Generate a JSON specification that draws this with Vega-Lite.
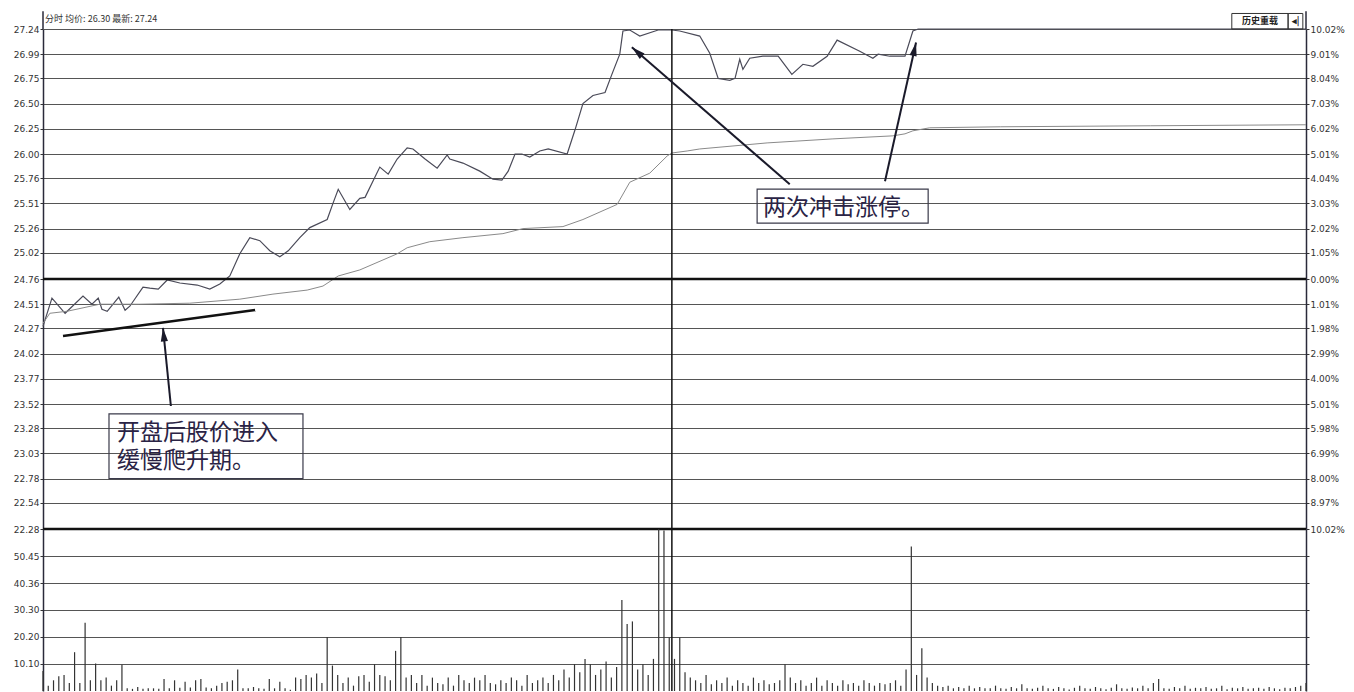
{
"$schema":"https://vega.github.io/schema/vega-lite/v6.json",
"autosize":{"type":"pad"},
"padding":{"left":13,"top":10,"right":0,"bottom":0},
"background":"white",
"spacing":0,
"bounds":"flush",
"config":{"view":{"stroke":null}},
"datasets":{
"price":[{"m":0,"p":24.29},{"m":1.7,"p":24.57},{"m":4.2,"p":24.42},{"m":7.6,"p":24.59},{"m":9.3,"p":24.51},{"m":10.5,"p":24.57},{"m":11.2,"p":24.46},{"m":12.2,"p":24.44},{"m":14.4,"p":24.58},{"m":15.6,"p":24.45},{"m":16.5,"p":24.49},{"m":19.0,"p":24.68},{"m":20.3,"p":24.67},{"m":21.9,"p":24.66},{"m":23.6,"p":24.75},{"m":26.0,"p":24.72},{"m":29.3,"p":24.70},{"m":31.7,"p":24.66},{"m":33.6,"p":24.71},{"m":35.5,"p":24.79},{"m":37.4,"p":25.01},{"m":39.3,"p":25.17},{"m":41.2,"p":25.14},{"m":43.1,"p":25.04},{"m":45.0,"p":24.98},{"m":46.6,"p":25.04},{"m":48.8,"p":25.17},{"m":50.7,"p":25.27},{"m":54.0,"p":25.35},{"m":55.1,"p":25.51},{"m":56.1,"p":25.65},{"m":58.3,"p":25.45},{"m":60.2,"p":25.56},{"m":61.2,"p":25.57},{"m":64.0,"p":25.87},{"m":65.6,"p":25.80},{"m":67.3,"p":25.95},{"m":69.2,"p":26.06},{"m":70.3,"p":26.05},{"m":72.6,"p":25.95},{"m":74.9,"p":25.86},{"m":76.8,"p":25.99},{"m":77.3,"p":25.95},{"m":79.8,"p":25.91},{"m":83.0,"p":25.83},{"m":85.5,"p":25.75},{"m":87.2,"p":25.74},{"m":88.4,"p":25.83},{"m":89.7,"p":26.00},{"m":91.0,"p":26.00},{"m":92.5,"p":25.97},{"m":94.4,"p":26.03},{"m":96.0,"p":26.05},{"m":99.6,"p":26.00},{"m":101.1,"p":26.24},{"m":102.6,"p":26.50},{"m":104.5,"p":26.58},{"m":106.8,"p":26.61},{"m":108.1,"p":26.79},{"m":109.6,"p":26.99},{"m":110.2,"p":27.22},{"m":111.5,"p":27.23},{"m":113.4,"p":27.17},{"m":116.9,"p":27.23},{"m":119.5,"p":27.23},{"m":121.0,"p":27.22},{"m":124.8,"p":27.17},{"m":126.7,"p":27.00},{"m":128.3,"p":26.75},{"m":130.5,"p":26.73},{"m":131.5,"p":26.75},{"m":132.4,"p":26.94},{"m":133.0,"p":26.84},{"m":134.3,"p":26.95},{"m":136.8,"p":26.97},{"m":139.7,"p":26.97},{"m":142.3,"p":26.79},{"m":144.4,"p":26.89},{"m":146.3,"p":26.87},{"m":149.0,"p":26.97},{"m":150.9,"p":27.13},{"m":155.2,"p":27.02},{"m":157.7,"p":26.95},{"m":158.7,"p":26.99},{"m":160.9,"p":26.97},{"m":163.8,"p":26.97},{"m":165.3,"p":27.22},{"m":166.3,"p":27.24},{"m":240,"p":27.24}],
"avg":[{"m":0,"p":24.32},{"m":1.3,"p":24.42},{"m":4.6,"p":24.44},{"m":10.8,"p":24.51},{"m":18.4,"p":24.51},{"m":27.9,"p":24.52},{"m":37.4,"p":24.56},{"m":43.7,"p":24.61},{"m":50.2,"p":24.65},{"m":53.2,"p":24.69},{"m":56.1,"p":24.79},{"m":60.2,"p":24.85},{"m":67.3,"p":25.01},{"m":69.2,"p":25.07},{"m":73.5,"p":25.13},{"m":79.8,"p":25.17},{"m":87.4,"p":25.21},{"m":91.2,"p":25.26},{"m":98.8,"p":25.28},{"m":102.6,"p":25.35},{"m":109.1,"p":25.50},{"m":111.5,"p":25.72},{"m":115.3,"p":25.81},{"m":118.6,"p":25.98},{"m":119.5,"p":26.01},{"m":122.4,"p":26.03},{"m":124.8,"p":26.05},{"m":137.6,"p":26.11},{"m":150.1,"p":26.15},{"m":161.5,"p":26.18},{"m":163.8,"p":26.20},{"m":165.3,"p":26.23},{"m":168.5,"p":26.26},{"m":181.9,"p":26.27},{"m":210.4,"p":26.28},{"m":240,"p":26.29}],
"vol":[{"m":0,"v":7.5},{"m":1,"v":2},{"m":2,"v":4},{"m":3,"v":5.5},{"m":4,"v":6},{"m":5,"v":3},{"m":6,"v":14.5},{"m":7,"v":3},{"m":8,"v":25.5},{"m":9,"v":4},{"m":10,"v":10.3},{"m":11,"v":4},{"m":12,"v":5},{"m":13,"v":2},{"m":14,"v":4},{"m":15,"v":9.8},{"m":16,"v":1},{"m":17,"v":0.8},{"m":18,"v":1.5},{"m":19,"v":0.8},{"m":20,"v":1},{"m":21,"v":1},{"m":22,"v":0.8},{"m":23,"v":4.5},{"m":24,"v":1},{"m":25,"v":4},{"m":26,"v":1.2},{"m":27,"v":3.5},{"m":28,"v":1.3},{"m":29,"v":4},{"m":30,"v":4.5},{"m":31,"v":1.3},{"m":32,"v":1},{"m":33,"v":2},{"m":34,"v":3},{"m":35,"v":3.5},{"m":36,"v":4},{"m":37,"v":8},{"m":38,"v":1},{"m":39,"v":1},{"m":40,"v":1.5},{"m":41,"v":1},{"m":42,"v":0.8},{"m":43,"v":4.5},{"m":44,"v":1},{"m":45,"v":3.5},{"m":46,"v":1},{"m":47,"v":0.5},{"m":48,"v":5},{"m":49,"v":4.5},{"m":50,"v":6},{"m":51,"v":5},{"m":52,"v":6.5},{"m":53,"v":3},{"m":54,"v":20.2},{"m":55,"v":9.5},{"m":56,"v":6},{"m":57,"v":3},{"m":58,"v":5},{"m":59,"v":2},{"m":60,"v":5.5},{"m":61,"v":6},{"m":62,"v":3.5},{"m":63,"v":10},{"m":64,"v":6},{"m":65,"v":5.5},{"m":66,"v":4},{"m":67,"v":15},{"m":68,"v":20.2},{"m":69,"v":5},{"m":70,"v":6},{"m":71,"v":3},{"m":72,"v":6},{"m":73,"v":2},{"m":74,"v":5},{"m":75,"v":3},{"m":76,"v":2.5},{"m":77,"v":5},{"m":78,"v":2},{"m":79,"v":6},{"m":80,"v":4},{"m":81,"v":3},{"m":82,"v":5},{"m":83,"v":4},{"m":84,"v":6},{"m":85,"v":3},{"m":86,"v":2.5},{"m":87,"v":4},{"m":88,"v":3},{"m":89,"v":5},{"m":90,"v":4},{"m":91,"v":2},{"m":92,"v":6},{"m":93,"v":3},{"m":94,"v":4},{"m":95,"v":5},{"m":96,"v":3},{"m":97,"v":6},{"m":98,"v":4},{"m":99,"v":8},{"m":100,"v":5},{"m":101,"v":10},{"m":102,"v":7},{"m":103,"v":12},{"m":104,"v":10},{"m":105,"v":6},{"m":106,"v":8},{"m":107,"v":11},{"m":108,"v":5},{"m":109,"v":9},{"m":110,"v":34},{"m":111,"v":25},{"m":112,"v":26},{"m":113,"v":8},{"m":114,"v":10},{"m":115,"v":6},{"m":116,"v":12},{"m":117,"v":60.5},{"m":118,"v":60},{"m":119,"v":20},{"m":120,"v":12},{"m":121,"v":20},{"m":122,"v":7},{"m":123,"v":5},{"m":124,"v":4},{"m":125,"v":3},{"m":126,"v":6},{"m":127,"v":2.5},{"m":128,"v":4},{"m":129,"v":3},{"m":130,"v":5},{"m":131,"v":2},{"m":132,"v":4},{"m":133,"v":3},{"m":134,"v":2},{"m":135,"v":5},{"m":136,"v":3},{"m":137,"v":4},{"m":138,"v":2.5},{"m":139,"v":3},{"m":140,"v":4},{"m":141,"v":10},{"m":142,"v":5},{"m":143,"v":3},{"m":144,"v":4},{"m":145,"v":2},{"m":146,"v":3},{"m":147,"v":5},{"m":148,"v":2},{"m":149,"v":4},{"m":150,"v":3},{"m":151,"v":2},{"m":152,"v":4},{"m":153,"v":2.5},{"m":154,"v":3},{"m":155,"v":2},{"m":156,"v":4},{"m":157,"v":3},{"m":158,"v":2},{"m":159,"v":3},{"m":160,"v":2.5},{"m":161,"v":3},{"m":162,"v":4},{"m":163,"v":2},{"m":164,"v":8},{"m":165,"v":54},{"m":166,"v":6},{"m":167,"v":16},{"m":168,"v":5},{"m":169,"v":3},{"m":170,"v":2},{"m":171,"v":1.5},{"m":172,"v":2},{"m":173,"v":1},{"m":174,"v":1.5},{"m":175,"v":1},{"m":176,"v":2},{"m":177,"v":1},{"m":178,"v":1.5},{"m":179,"v":1},{"m":180,"v":1},{"m":181,"v":2},{"m":182,"v":1},{"m":183,"v":0.8},{"m":184,"v":1.5},{"m":185,"v":1},{"m":186,"v":2.5},{"m":187,"v":1},{"m":188,"v":0.8},{"m":189,"v":1.2},{"m":190,"v":2},{"m":191,"v":1},{"m":192,"v":0.8},{"m":193,"v":1.5},{"m":194,"v":1},{"m":195,"v":0.6},{"m":196,"v":1.2},{"m":197,"v":2},{"m":198,"v":1},{"m":199,"v":0.8},{"m":200,"v":1.5},{"m":201,"v":1},{"m":202,"v":0.7},{"m":203,"v":1.2},{"m":204,"v":2.5},{"m":205,"v":1},{"m":206,"v":0.8},{"m":207,"v":1.3},{"m":208,"v":1},{"m":209,"v":2},{"m":210,"v":1},{"m":211,"v":3},{"m":212,"v":4.5},{"m":213,"v":1},{"m":214,"v":0.8},{"m":215,"v":1.5},{"m":216,"v":1},{"m":217,"v":2},{"m":218,"v":0.8},{"m":219,"v":1.2},{"m":220,"v":1},{"m":221,"v":1.5},{"m":222,"v":0.8},{"m":223,"v":1},{"m":224,"v":2},{"m":225,"v":0.7},{"m":226,"v":1.2},{"m":227,"v":1},{"m":228,"v":1.5},{"m":229,"v":0.8},{"m":230,"v":1},{"m":231,"v":1.2},{"m":232,"v":0.8},{"m":233,"v":1.5},{"m":234,"v":1},{"m":235,"v":0.7},{"m":236,"v":1.2},{"m":237,"v":1},{"m":238,"v":1.5},{"m":239,"v":2},{"m":240,"v":3}],
"arrows":[{"x":141.9,"y":25.70,"x2":111.9,"y2":27.058},{"x":160.0,"y":25.73,"x2":165.9,"y2":27.107},{"x":24.3,"y":23.50,"x2":22.8,"y2":24.275}],
"trend":[{"x":3.8,"y":24.195,"x2":40.3,"y2":24.453}],
"heads":[{"x":111.9,"y":27.058,"a":310.9},{"x":165.9,"y":27.107,"a":12.6},{"x":22.8,"y":24.275,"a":354.1}],
"boxes":[{"x":135.7,"x2":168.2,"y":25.651,"y2":25.315},{"x":12.54,"x2":49.4,"y":23.423,"y2":22.779}],
"notes":[{"x":136.8,"y":25.466,"t":"两次冲击涨停。"},{"x":14.06,"y":23.228,"t":"开盘后股价进入"},{"x":14.06,"y":22.952,"t":"缓慢爬升期。"}],
"edges":[{"m":0},{"m":240}]
},
"vconcat":[
{
"width":1263,"height":500,
"resolve":{"axis":{"y":"independent"}},
"layer":[
{"data":{"name":"price"},"mark":{"type":"line","color":"#4a4a58","strokeWidth":1.2},
 "encoding":{"x":{"field":"m","type":"quantitative","scale":{"domain":[0,240],"nice":false,"zero":false},"axis":null},
 "y":{"field":"p","type":"quantitative","scale":{"domain":[22.28,27.24],"nice":false,"zero":false},
  "axis":{"orient":"left","title":null,"values":[22.28,22.54,22.78,23.03,23.28,23.52,23.77,24.02,24.27,24.51,24.76,25.02,25.26,25.51,25.76,26.00,26.25,26.50,26.75,26.99,27.24],"format":".2f","labelFont":"DejaVu Sans","labelFontSize":9,"labelColor":"#333","tickSize":3,"tickColor":"#333","labelPadding":1,"domainColor":"#2a2a3a","domainWidth":1.5,"grid":true,"gridColor":"#555","gridWidth":1.2}}}},
{"data":{"name":"avg"},"mark":{"type":"line","color":"#8a8a8a","strokeWidth":1},
 "encoding":{"x":{"field":"m","type":"quantitative","scale":{"domain":[0,240],"nice":false,"zero":false},"axis":null},
 "y":{"field":"p","type":"quantitative","scale":{"domain":[22.28,27.24],"nice":false,"zero":false},
  "axis":{"orient":"right","title":null,"values":[22.28,22.54,22.78,23.03,23.28,23.52,23.77,24.02,24.27,24.51,24.76,25.02,25.26,25.51,25.76,26.00,26.25,26.50,26.75,26.99,27.24],"labelExpr":"format(abs(datum.value-24.76)/24.76*100,'.2f')+'%'","labelFont":"DejaVu Sans","labelFontSize":9,"labelColor":"#333","tickSize":3,"tickColor":"#333","labelPadding":1,"domainColor":"#2a2a3a","domainWidth":1.5,"grid":false}}}},
{"data":{"values":[{}]},"mark":{"type":"rule","color":"#111","strokeWidth":2.5},
 "encoding":{"y":{"datum":24.76,"type":"quantitative","scale":{"domain":[22.28,27.24],"nice":false,"zero":false},"axis":null}}},
{"data":{"values":[{}]},"mark":{"type":"rule","color":"#111","strokeWidth":2.5},
 "encoding":{"y":{"datum":22.28,"type":"quantitative","scale":{"domain":[22.28,27.24],"nice":false,"zero":false},"axis":null}}},
{"data":{"values":[{}]},"mark":{"type":"rule","color":"#111","strokeWidth":1.5},
 "encoding":{"x":{"datum":119.5,"type":"quantitative","scale":{"domain":[0,240],"nice":false,"zero":false},"axis":null}}},
{"data":{"name":"edges"},"mark":{"type":"rule","color":"#2a2a3a","strokeWidth":1.5},
 "encoding":{"x":{"field":"m","type":"quantitative","scale":{"domain":[0,240],"nice":false,"zero":false},"axis":null},
 "y":{"datum":27.24,"type":"quantitative","scale":{"domain":[22.28,27.24],"nice":false,"zero":false},"axis":null},"y2":{"datum":27.415}}},
{"data":{"name":"arrows"},"mark":{"type":"rule","color":"#1a1a2a","strokeWidth":2},
 "encoding":{"x":{"field":"x","type":"quantitative","scale":{"domain":[0,240],"nice":false,"zero":false},"axis":null},"x2":{"field":"x2"},
 "y":{"field":"y","type":"quantitative","scale":{"domain":[22.28,27.24],"nice":false,"zero":false},"axis":null},"y2":{"field":"y2"}}},
{"data":{"name":"trend"},"mark":{"type":"rule","color":"#111","strokeWidth":2.5},
 "encoding":{"x":{"field":"x","type":"quantitative","scale":{"domain":[0,240],"nice":false,"zero":false},"axis":null},"x2":{"field":"x2"},
 "y":{"field":"y","type":"quantitative","scale":{"domain":[22.28,27.24],"nice":false,"zero":false},"axis":null},"y2":{"field":"y2"}}},
{"data":{"name":"heads"},"mark":{"type":"point","filled":true,"color":"#1a1a2a","opacity":1,"size":256,"shape":"M0,0L0.45,1.7L-0.45,1.7Z"},
 "encoding":{"x":{"field":"x","type":"quantitative","scale":{"domain":[0,240],"nice":false,"zero":false},"axis":null},
 "y":{"field":"y","type":"quantitative","scale":{"domain":[22.28,27.24],"nice":false,"zero":false},"axis":null},
 "angle":{"field":"a","type":"quantitative","scale":null}}},
{"data":{"name":"boxes"},"mark":{"type":"rect","fill":null,"fillOpacity":0,"stroke":"#3a3a4a","strokeWidth":1.2},
 "encoding":{"x":{"field":"x","type":"quantitative","scale":{"domain":[0,240],"nice":false,"zero":false},"axis":null},"x2":{"field":"x2"},
 "y":{"field":"y","type":"quantitative","scale":{"domain":[22.28,27.24],"nice":false,"zero":false},"axis":null},"y2":{"field":"y2"}}},
{"data":{"name":"notes"},"mark":{"type":"text","align":"left","baseline":"middle","font":"Noto Sans CJK SC","fontSize":23,"color":"#2a2345"},
 "encoding":{"x":{"field":"x","type":"quantitative","scale":{"domain":[0,240],"nice":false,"zero":false},"axis":null},
 "y":{"field":"y","type":"quantitative","scale":{"domain":[22.28,27.24],"nice":false,"zero":false},"axis":null},
 "text":{"field":"t"}}},
{"data":{"values":[{"x":0.4,"y":27.335,"t":"分时  均价: 26.30  最新: 27.24"}]},"mark":{"type":"text","align":"left","baseline":"middle","font":"Noto Sans CJK SC","fontSize":9,"color":"#333"},
 "encoding":{"x":{"field":"x","type":"quantitative","scale":{"domain":[0,240],"nice":false,"zero":false},"axis":null},
 "y":{"field":"y","type":"quantitative","scale":{"domain":[22.28,27.24],"nice":false,"zero":false},"axis":null},
 "text":{"field":"t"}}},
{"data":{"values":[{"x":225.9,"x2":236.6,"y":27.24,"y2":27.394},{"x":236.6,"x2":239.4,"y":27.24,"y2":27.394}]},"mark":{"type":"rect","fill":null,"fillOpacity":0,"stroke":"#333","strokeWidth":1},
 "encoding":{"x":{"field":"x","type":"quantitative","scale":{"domain":[0,240],"nice":false,"zero":false},"axis":null},"x2":{"field":"x2"},
 "y":{"field":"y","type":"quantitative","scale":{"domain":[22.28,27.24],"nice":false,"zero":false},"axis":null},"y2":{"field":"y2"}}},
{"data":{"values":[{"x":231.25,"y":27.322,"t":"历史重载"},{"x":238.0,"y":27.322,"t":"◂|"}]},"mark":{"type":"text","align":"center","baseline":"middle","font":"Noto Sans CJK SC","fontSize":9,"fontWeight":"bold","color":"#222"},
 "encoding":{"x":{"field":"x","type":"quantitative","scale":{"domain":[0,240],"nice":false,"zero":false},"axis":null},
 "y":{"field":"y","type":"quantitative","scale":{"domain":[22.28,27.24],"nice":false,"zero":false},"axis":null},
 "text":{"field":"t"}}}
]
},
{
"width":1263,"height":162,
"resolve":{"axis":{"y":"independent"}},
"layer":[
{"data":{"name":"vol"},"mark":{"type":"rule","color":"#333","strokeWidth":1.2},
 "encoding":{"x":{"field":"m","type":"quantitative","scale":{"domain":[0,240],"nice":false,"zero":false},"axis":null},
 "y":{"field":"v","type":"quantitative","scale":{"domain":[0,60.54],"nice":false,"zero":false},
  "axis":{"orient":"left","title":null,"values":[10.1,20.2,30.3,40.36,50.45],"format":".2f","labelFont":"DejaVu Sans","labelFontSize":9,"labelColor":"#333","tickSize":3,"tickColor":"#333","labelPadding":1,"domainColor":"#2a2a3a","domainWidth":1.5,"grid":true,"gridColor":"#555","gridWidth":1.2}},
 "y2":{"datum":0}}},
{"data":{"values":[{}]},"mark":{"type":"rule","color":"#111","strokeWidth":1.5},
 "encoding":{"x":{"datum":119.5,"type":"quantitative","scale":{"domain":[0,240],"nice":false,"zero":false},"axis":null},
 "y":{"datum":0,"type":"quantitative","scale":{"domain":[0,60.54],"nice":false,"zero":false},
  "axis":{"orient":"right","title":null,"values":[10.1,20.2,30.3,40.36,50.45],"labels":false,"tickSize":3,"tickColor":"#333","domainColor":"#2a2a3a","domainWidth":1.5,"grid":false}},
 "y2":{"datum":60.54}}}
]
}
]
}
